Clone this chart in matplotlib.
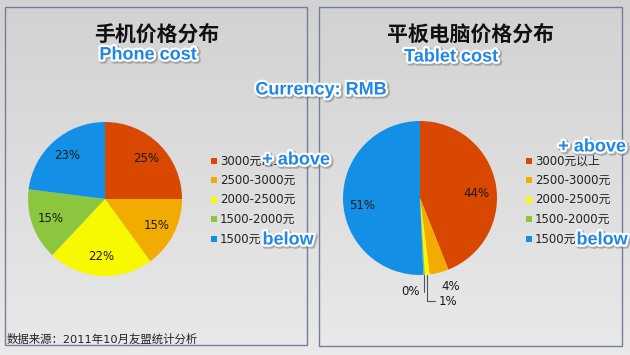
import matplotlib
matplotlib.use('Agg')
import matplotlib.pyplot as plt
import matplotlib.patheffects as pe
from matplotlib.colors import LinearSegmentedColormap
from matplotlib.patches import Rectangle
import numpy as np

plt.rcParams['font.family'] = ['DejaVu Sans', 'Noto Sans CJK SC']

# data
price_bands = ['3000元以上', '2500-3000元', '2000-2500元', '1500-2000元', '1500元以下']
phone_share = [25, 15, 22, 15, 23]
tablet_share = [44, 4, 1, 0.3, 50.7]
colors = ['#d84800', '#f2ab00', '#f8f800', '#8cc63f', '#1390e6']
titles = ['手机价格分布', '平板电脑价格分布']
subtitles = ['Phone cost', 'Tablet cost']
source = '数据来源：2011年10月友盟统计分析'

W, H = 630, 355
fig = plt.figure(figsize=(W / 100, H / 100), dpi=100)

# background + panel frames, in pixel coords
bg = fig.add_axes([0, 0, 1, 1])
bg.set_xlim(0, W)
bg.set_ylim(H, 0)
bg.axis('off')
cmap = LinearSegmentedColormap.from_list('bg', ['#d2d2d2', '#e9e9e9'])
bg.imshow(np.linspace(0, 1, 100).reshape(-1, 1), extent=(0, W, H, 0),
          cmap=cmap, aspect='auto')
bg.add_patch(Rectangle((5, 7), 302, 338, fill=False, ec='#6f7f9c', lw=1))
bg.add_patch(Rectangle((319, 7), 303, 339, fill=False, ec='#6f7f9c', lw=1))

cjk = ['Noto Sans CJK SC', 'DejaVu Sans']
bg.text(157, 34, titles[0], ha='center', va='center', fontsize=15,
        fontweight='bold', family=cjk, color='#111')
bg.text(470, 34, titles[1], ha='center', va='center', fontsize=15,
        fontweight='bold', family=cjk, color='#111')
bg.text(7, 339, source, ha='left', va='center', fontsize=8.2, color='#222')

R = 77


def pie_axes(cx, cy, pad=1.6):
    ax = fig.add_axes([(cx - R * pad) / W, (H - cy - R * pad) / H,
                       2 * R * pad / W, 2 * R * pad / H])
    ax.set_xlim(-pad, pad)
    ax.set_ylim(-pad, pad)
    ax.axis('off')
    return ax


# phone pie
ax1 = pie_axes(105, 199)
ax1.pie(phone_share, colors=colors, startangle=90, counterclock=False,
        autopct=lambda p: f'{p:.0f}%', pctdistance=0.75,
        wedgeprops=dict(linewidth=0), textprops=dict(fontsize=8.5, color='#1a1a1a'))
ax1.set_xlim(-1.6, 1.6)
ax1.set_ylim(-1.6, 1.6)

# tablet pie
ax2 = pie_axes(420, 198)
wedges, _ = ax2.pie(tablet_share, colors=colors, startangle=90, counterclock=False,
                    wedgeprops=dict(linewidth=0))
ax2.set_xlim(-1.6, 1.6)
ax2.set_ylim(-1.6, 1.6)
for i, (w, v) in enumerate(zip(wedges, tablet_share)):
    mid = np.deg2rad((w.theta1 + w.theta2) / 2)
    px, py = np.cos(mid), np.sin(mid)
    lab = f'{v:.0f}%'
    if v > 10:
        ax2.text(0.75 * px, 0.75 * py - 0.08, lab, ha='center', va='center',
                 fontsize=8.5, color='#1a1a1a')
    elif i == 1:
        ax2.text(1.1 * px, 1.1 * py, lab, ha='left', va='top',
                 fontsize=8.5, color='#1a1a1a')
    elif i == 2:
        ax2.annotate(lab, xy=(px, py), xytext=(px + 0.15, -1.34),
                     ha='left', va='center', fontsize=8.5, color='#1a1a1a',
                     arrowprops=dict(arrowstyle='-', color='#555', lw=0.8,
                                     shrinkA=1, shrinkB=0,
                                     connectionstyle='angle,angleA=180,angleB=90,rad=0'))
    else:
        ax2.annotate(lab, xy=(px, py), xytext=(px - 0.06, -1.22),
                     ha='right', va='center', fontsize=8.5, color='#1a1a1a',
                     arrowprops=dict(arrowstyle='-', color='#555', lw=0.8,
                                     shrinkA=1, shrinkB=0,
                                     connectionstyle='angle,angleA=0,angleB=90,rad=0'))

# legends
for x0 in (211, 526):
    for i, (lab, c) in enumerate(zip(price_bands, colors)):
        y = 161 + i * 19.4
        bg.add_patch(Rectangle((x0, y - 3), 6, 6, color=c, lw=0))
        bg.text(x0 + 9, y, lab, ha='left', va='center', fontsize=8.5, color='#222')

# blue overlay notes
blue = dict(color='#1f86ea', fontsize=13, fontweight='bold', family='Liberation Sans',
            ha='center', va='center',
            path_effects=[pe.Stroke(linewidth=4, foreground='#777', offset=(1, -1), alpha=0.5),
                          pe.Stroke(linewidth=3.2, foreground='white'), pe.Normal()])
bg.text(148, 55, subtitles[0], **blue)
bg.text(451, 57, subtitles[1], **blue)
bg.text(321, 90, 'Currency: RMB', **blue)
bg.text(296, 160, '+ above', **blue)
bg.text(592, 147, '+ above', **blue)
bg.text(288, 240, 'below', **blue)
bg.text(602, 240, 'below', **blue)

fig.savefig('out.png', dpi=100)
